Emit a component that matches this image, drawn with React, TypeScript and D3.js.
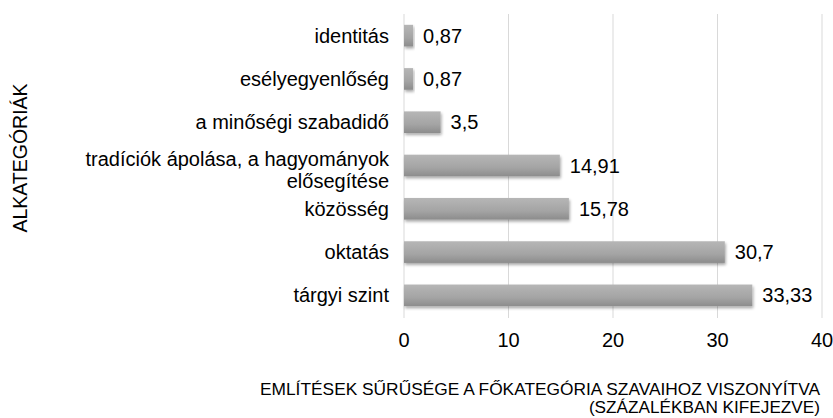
import React from "react";
import * as d3 from "d3";

const categories = [
  "identitás",
  "esélyegyenlőség",
  "a minőségi szabadidő",
  "tradíciók ápolása, a hagyományok|elősegítése",
  "közösség",
  "oktatás",
  "tárgyi szint",
];
const values = [0.87, 0.87, 3.5, 14.91, 15.78, 30.7, 33.33];
const valueLabels = ["0,87", "0,87", "3,5", "14,91", "15,78", "30,7", "33,33"];
const xTicks = [0, 10, 20, 30, 40];
const xTitle = [
  "EMLÍTÉSEK SŰRŰSÉGE A FŐKATEGÓRIA SZAVAIHOZ VISZONYÍTVA",
  "(SZÁZALÉKBAN KIFEJEZVE)",
];
const yTitle = "ALKATEGÓRIÁK";

export default function App() {
  const W = 833;
  const H = 418;
  const x = d3.scaleLinear().domain([0, 40]).range([404, 822]);
  const y = d3
    .scaleBand<string>()
    .domain(categories)
    .range([14, 317])
    .paddingInner(0.5)
    .paddingOuter(0.25);
  const font = "'Liberation Sans', Arial, sans-serif";
  const fs = 20;
  return (
    <svg
      width={W}
      height={H}
      style={{ position: "absolute", left: 0, top: 0, background: "#fff" }}
      fontFamily={font}
    >
      <defs>
        <linearGradient id="barG" x1="0" y1="0" x2="0" y2="1">
          <stop offset="0" stopColor="#b6b6b6" />
          <stop offset="0.6" stopColor="#a4a4a4" />
          <stop offset="1" stopColor="#8c8c8c" />
        </linearGradient>
        <filter id="sh" x="-10%" y="-30%" width="130%" height="180%">
          <feGaussianBlur in="SourceAlpha" stdDeviation="1.5" />
          <feOffset dx="1" dy="2" result="b" />
          <feComponentTransfer>
            <feFuncA type="linear" slope="0.35" />
          </feComponentTransfer>
          <feMerge>
            <feMergeNode />
            <feMergeNode in="SourceGraphic" />
          </feMerge>
        </filter>
      </defs>
      {xTicks.map((t) => (
        <line
          key={t}
          x1={x(t)}
          x2={x(t)}
          y1={14}
          y2={318}
          stroke="#d9d9d9"
          strokeWidth={1}
        />
      ))}
      {categories.map((c, i) => {
        const yy = y(c)!;
        const bw = y.bandwidth();
        return (
          <g key={c}>
            <rect
              x={x(0)}
              y={yy}
              width={x(values[i]) - x(0)}
              height={bw}
              fill="url(#barG)"
              filter="url(#sh)"
            />
            <text
              x={x(values[i]) + 10}
              y={yy + bw / 2}
              dy="0.35em"
              fontSize={fs}
              fill="#000"
            >
              {valueLabels[i]}
            </text>
          </g>
        );
      })}
      {categories.map((c) => {
        const yy = y(c)! + y.bandwidth() / 2;
        const lines = c.split("|");
        if (lines.length === 1) {
          return (
            <text
              key={c}
              x={389}
              y={yy}
              dy="0.35em"
              textAnchor="end"
              fontSize={fs}
            >
              {c}
            </text>
          );
        }
        return (
          <text key={c} x={389} textAnchor="end" fontSize={fs}>
            {lines.map((l, j) => (
              <tspan key={j} x={389} y={yy - 7 + j * 22} dy="0.35em">
                {l}
              </tspan>
            ))}
          </text>
        );
      })}
      {xTicks.map((t) => (
        <text
          key={"t" + t}
          x={x(t)}
          y={340}
          dy="0.35em"
          textAnchor="middle"
          fontSize={fs}
        >
          {t}
        </text>
      ))}
      <text
        x={820}
        y={389}
        dy="0.35em"
        textAnchor="end"
        fontSize={17}
        textLength={560}
        lengthAdjust="spacingAndGlyphs"
      >
        {xTitle[0]}
      </text>
      <text x={820} y={407} dy="0.35em" textAnchor="end" fontSize={17.2}>
        {xTitle[1]}
      </text>
      <text
        transform={`translate(20,158) rotate(-90)`}
        textAnchor="middle"
        dy="0.35em"
        fontSize={19.5}
      >
        {yTitle}
      </text>
    </svg>
  );
}
